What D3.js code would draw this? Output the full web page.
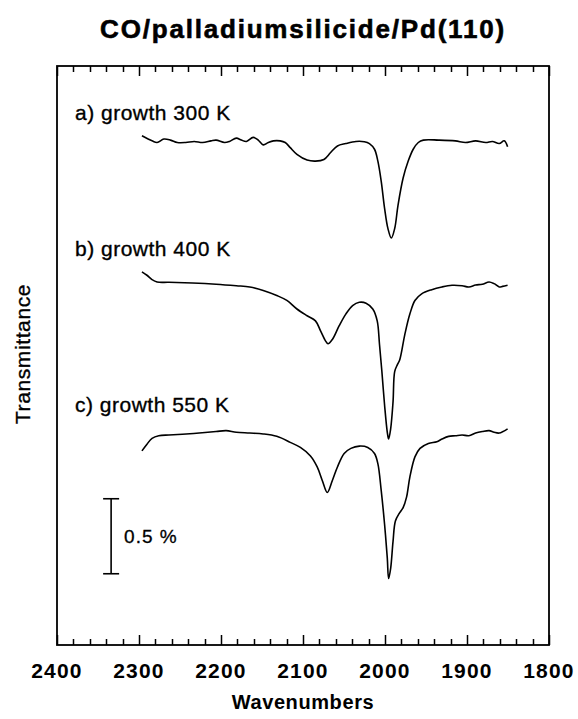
<!DOCTYPE html>
<html>
<head>
<meta charset="utf-8">
<script src="https://cdn.jsdelivr.net/npm/d3@7"></script>
<style>
  body { margin: 0; background: #fff; }
  svg { display: block; font-family: "Liberation Sans", Arial, sans-serif; }
</style>
</head>
<body>
<svg id="chart" width="578" height="719"></svg>
<script>
// spectra: [wavenumber (cm-1), transmittance (%, offset stacked)]
const specA = [
  [2296.4, 3.395], [2284.1, 3.361], [2277.9, 3.350], [2269.7, 3.373], [2261.5, 3.366],
  [2253.3, 3.350], [2243.0, 3.350], [2232.7, 3.357], [2222.4, 3.350], [2212.2, 3.361],
  [2206.0, 3.366], [2195.7, 3.350], [2189.6, 3.357], [2181.3, 3.379], [2175.2, 3.366],
  [2169.0, 3.357], [2160.8, 3.384], [2154.6, 3.366], [2148.5, 3.334], [2142.3, 3.350],
  [2136.1, 3.361], [2127.9, 3.361], [2121.7, 3.350], [2115.6, 3.316], [2107.4, 3.271],
  [2095.0, 3.233], [2084.8, 3.226], [2074.5, 3.237], [2066.3, 3.283], [2058.0, 3.327],
  [2047.8, 3.343], [2035.4, 3.357], [2025.2, 3.355], [2019.0, 3.343], [2012.8, 3.305],
  [2008.7, 3.226], [2004.6, 3.091], [2000.5, 2.911], [1996.4, 2.776], [1992.3, 2.713],
  [1988.2, 2.776], [1984.1, 2.933], [1977.9, 3.113], [1971.7, 3.226], [1965.6, 3.305],
  [1959.4, 3.350], [1953.2, 3.366], [1934.7, 3.366], [1914.2, 3.361], [1901.9, 3.350],
  [1889.5, 3.361], [1877.2, 3.350], [1869.0, 3.357], [1860.7, 3.343], [1854.6, 3.361],
  [1850.5, 3.321]
];
const specB = [
  [2296.4, 2.488], [2290.3, 2.465], [2284.1, 2.436], [2277.9, 2.420], [2263.5, 2.418],
  [2234.8, 2.413], [2206.0, 2.405], [2181.3, 2.395], [2164.9, 2.387], [2148.5, 2.364],
  [2132.0, 2.330], [2119.7, 2.297], [2107.4, 2.240], [2095.0, 2.195], [2084.8, 2.161],
  [2078.6, 2.094], [2072.4, 2.026], [2069.5, 2.008], [2064.2, 2.037], [2056.0, 2.127],
  [2047.8, 2.206], [2039.5, 2.263], [2031.3, 2.285], [2023.1, 2.279], [2014.9, 2.240],
  [2009.5, 2.161], [2006.7, 2.003], [2003.8, 1.823], [2000.5, 1.598], [1997.2, 1.418],
  [1995.6, 1.373], [1993.1, 1.441], [1990.2, 1.621], [1988.2, 1.823], [1984.9, 1.869],
  [1982.0, 1.902], [1975.8, 2.071], [1969.7, 2.206], [1963.5, 2.297], [1955.3, 2.341],
  [1943.0, 2.369], [1930.6, 2.387], [1918.3, 2.398], [1906.0, 2.395], [1897.7, 2.387],
  [1889.5, 2.400], [1881.3, 2.405], [1873.1, 2.420], [1866.9, 2.409], [1860.7, 2.387],
  [1856.6, 2.391], [1850.5, 2.398]
];
const specC = [
  [2296.4, 1.294], [2290.3, 1.339], [2284.1, 1.377], [2275.9, 1.395], [2263.5, 1.400],
  [2247.1, 1.405], [2226.6, 1.413], [2206.0, 1.423], [2193.7, 1.429], [2181.3, 1.418],
  [2164.9, 1.413], [2148.5, 1.407], [2132.0, 1.391], [2115.6, 1.351], [2103.2, 1.317],
  [2090.9, 1.260], [2082.7, 1.187], [2076.5, 1.097], [2070.4, 1.017], [2064.2, 1.097],
  [2058.0, 1.187], [2049.8, 1.277], [2041.6, 1.311], [2031.3, 1.326], [2021.0, 1.317],
  [2012.8, 1.277], [2008.7, 1.209], [2004.6, 1.029], [2000.5, 0.803], [1997.2, 0.579],
  [1995.6, 0.443], [1993.1, 0.511], [1990.2, 0.691], [1987.3, 0.826], [1982.0, 0.883],
  [1977.9, 0.916], [1973.8, 0.984], [1969.7, 1.119], [1963.5, 1.254], [1957.3, 1.311],
  [1947.1, 1.344], [1936.8, 1.355], [1930.6, 1.373], [1922.4, 1.391], [1914.2, 1.395],
  [1906.0, 1.400], [1897.7, 1.395], [1889.5, 1.413], [1881.3, 1.423], [1873.1, 1.429],
  [1866.9, 1.418], [1860.7, 1.413], [1850.5, 1.441]
];

const spectra = [specA, specB, specC];
const labels = ["a) growth 300 K", "b) growth 400 K", "c) growth 550 K"];
const labelBaselines = [120, 256, 412];

const xMajor = [2400, 2300, 2200, 2100, 2000, 1900, 1800];
const xMinor = [2380, 2360, 2340, 2320, 2280, 2260, 2240, 2220, 2180, 2160, 2140, 2120,
  2080, 2060, 2040, 2020, 1980, 1960, 1940, 1920, 1880, 1860, 1840, 1820];

const scaleBar = [0.475, 0.975]; // 0.5 % transmittance
const scaleBarWn = 2334;

const svg = d3.select("#chart");
const frameL = 57, frameR = 549, frameT = 66, frameB = 645;

const x = d3.scaleLinear().domain([2400, 1800]).range([frameL, frameR]);
const y = d3.scaleLinear().domain([0, (frameB - frameT) / 150]).range([frameB, frameT]);

// title
svg.append("text")
  .attr("x", (frameL + frameR) / 2)
  .attr("y", 38)
  .attr("text-anchor", "middle")
  .style("font-size", "26px")
  .style("font-weight", "bold")
  .style("letter-spacing", "1.8px")
  .attr("stroke", "#000").attr("stroke-width", 0.6)
  .text("CO/palladiumsilicide/Pd(110)");

// ticks inside the frame, top and bottom
const tickPath = [];
xMajor.forEach(v => tickPath.push({ v, len: 10 }));
xMinor.forEach(v => tickPath.push({ v, len: 6 }));

const tickG = svg.append("g");
tickPath.forEach(d => {
  const px = Math.round(x(d.v)) + 0.5;
  tickG.append("path")
    .attr("d", `M${px},${frameB}V${frameB - d.len}M${px},${frameT}V${frameT + d.len}`)
    .attr("fill", "none")
    .attr("stroke", "#000")
    .attr("stroke-width", 1.5);
});

// frame
svg.append("rect")
  .attr("x", frameL).attr("y", frameT)
  .attr("width", frameR - frameL).attr("height", frameB - frameT)
  .attr("fill", "none").attr("stroke", "#000").attr("stroke-width", 1.8);

// tick labels
svg.append("g").selectAll("text")
  .data(xMajor)
  .enter().append("text")
  .attr("x", d => x(d))
  .attr("y", 678)
  .attr("text-anchor", "middle")
  .style("font-size", "21px")
  .style("font-weight", "bold")
  .style("letter-spacing", "1.2px")
  .text(d => d);

// axis titles
svg.append("text")
  .attr("x", (frameL + frameR) / 2)
  .attr("y", 709)
  .attr("text-anchor", "middle")
  .style("font-size", "20px")
  .style("font-weight", "bold")
  .style("letter-spacing", "0.6px")
  .text("Wavenumbers");

svg.append("text")
  .attr("transform", "translate(30,354) rotate(-90)")
  .attr("text-anchor", "middle")
  .style("font-size", "21px")
  .style("letter-spacing", "0.6px")
  .attr("stroke", "#000").attr("stroke-width", 0.35)
  .text("Transmittance");

// spectra
const line = d3.line()
  .x(d => x(d[0]))
  .y(d => y(d[1]))
  .curve(d3.curveCatmullRom.alpha(0.5));

svg.append("g").selectAll("path")
  .data(spectra)
  .enter().append("path")
  .attr("d", line)
  .attr("fill", "none")
  .attr("stroke", "#000")
  .attr("stroke-width", 1.6)
  .attr("stroke-linejoin", "round");

svg.append("g").selectAll("text")
  .data(labels)
  .enter().append("text")
  .attr("x", 75)
  .attr("y", (d, i) => labelBaselines[i])
  .style("font-size", "21px")
  .style("letter-spacing", "0.5px")
  .attr("stroke", "#000").attr("stroke-width", 0.35)
  .text(d => d);

// 0.5 % scale bar
const bx = x(scaleBarWn);
const bar = svg.append("g").attr("stroke", "#000").attr("stroke-width", 1.6);
bar.append("line").attr("x1", bx).attr("x2", bx).attr("y1", y(scaleBar[0])).attr("y2", y(scaleBar[1]));
scaleBar.forEach(v => {
  bar.append("line").attr("x1", bx - 8).attr("x2", bx + 8).attr("y1", y(v)).attr("y2", y(v));
});
svg.append("text")
  .attr("x", bx + 13)
  .attr("y", y((scaleBar[0] + scaleBar[1]) / 2) + 7)
  .style("font-size", "19px")
  .style("letter-spacing", "1px")
  .attr("stroke", "#000").attr("stroke-width", 0.3)
  .text("0.5 %");
</script>
</body>
</html>
